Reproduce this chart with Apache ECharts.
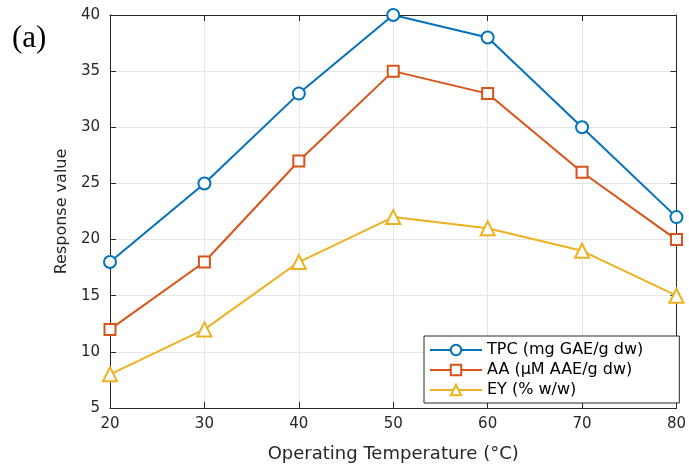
<!DOCTYPE html>
<html><head><meta charset="utf-8">
<script src="https://cdn.jsdelivr.net/npm/echarts@6/dist/echarts.min.js"></script>
<style>html,body{margin:0;padding:0;background:#fff}#c{width:689px;height:468px}</style>
</head><body><div id="c"></div>
<script>
const temperatures = [20, 30, 40, 50, 60, 70, 80];
const tpc = [18, 25, 33, 40, 38, 30, 22];
const aa = [12, 18, 27, 35, 33, 26, 20];
const ey = [8, 12, 18, 22, 21, 19, 15];
const seriesNames = ['TPC (mg GAE/g dw)', 'AA (\u03bcM AAE/g dw)', 'EY (% w/w)'];
const colors = ['#0072BD', '#D95319', '#EDB120'];
const symbols = ['circle', 'rect', 'triangle'];
const symbolSizes = [12, 11, 14];

const chart = echarts.init(document.getElementById('c'));
const font = '"DejaVu Sans", Verdana, sans-serif';
const axisCommon = {
  axisLine: {show: true, lineStyle: {color: '#262626', width: 1}},
  axisTick: {show: true, inside: true, length: 6, lineStyle: {color: '#262626'}},
  splitLine: {show: false}
};
const mk = (vals, i) => ({
  name: seriesNames[i], type: 'line',
  data: temperatures.map((t, k) => [t, vals[k]]),
  symbol: symbols[i], symbolSize: symbolSizes[i],
  showAllSymbol: true,
  lineStyle: {color: colors[i], width: 2},
  itemStyle: {color: '#fff', borderColor: colors[i], borderWidth: 2},
  emphasis: {disabled: true},
  z: 10 - i
});
chart.setOption({
  animation: false,
  backgroundColor: '#fff',
  grid: {left: 110, right: 12, top: 15, bottom: 59, containLabel: false},
  xAxis: [
    Object.assign({}, axisCommon, {
      type: 'value', min: 20, max: 80, interval: 10, position: 'bottom',
      name: 'Operating Temperature (\u00b0C)', nameLocation: 'middle', nameGap: 37,
      nameTextStyle: {fontFamily: font, fontSize: 18, color: '#262626'},
      axisLabel: {fontFamily: font, fontSize: 15, color: '#262626', margin: 9},
      splitLine: {show: true, lineStyle: {color: '#e6e6e6', width: 1}}
    }),
    Object.assign({}, axisCommon, {
      type: 'value', min: 20, max: 80, interval: 10, position: 'top',
      axisLabel: {show: false}
    })
  ],
  yAxis: [
    Object.assign({}, axisCommon, {
      type: 'value', min: 5, max: 40, interval: 5, position: 'left',
      name: 'Response value', nameLocation: 'middle', nameGap: 34,
      nameTextStyle: {fontFamily: font, fontSize: 16, color: '#262626'},
      axisLabel: {fontFamily: font, fontSize: 15, color: '#262626', margin: 10},
      splitLine: {show: true, lineStyle: {color: '#e6e6e6', width: 1}}
    }),
    Object.assign({}, axisCommon, {
      type: 'value', min: 5, max: 40, interval: 5, position: 'right',
      axisLabel: {show: false}
    })
  ],
  legend: {
    orient: 'vertical', left: 424, top: 336,
    backgroundColor: '#fff', borderColor: '#262626', borderWidth: 1,
    padding: [6, 36, 5, 5], itemGap: 4,
    itemWidth: 52, itemHeight: 13,
    textStyle: {fontFamily: font, fontSize: 16, color: '#000'},
    data: seriesNames,
    selectedMode: false
  },
  graphic: [
    {type: 'text', left: 12, top: 23, style: {text: '(a)', font: '31px "Liberation Serif", "Times New Roman", serif', fill: '#000'}}
  ],
  series: [mk(tpc, 0), mk(aa, 1), mk(ey, 2)]
});
</script></body></html>
